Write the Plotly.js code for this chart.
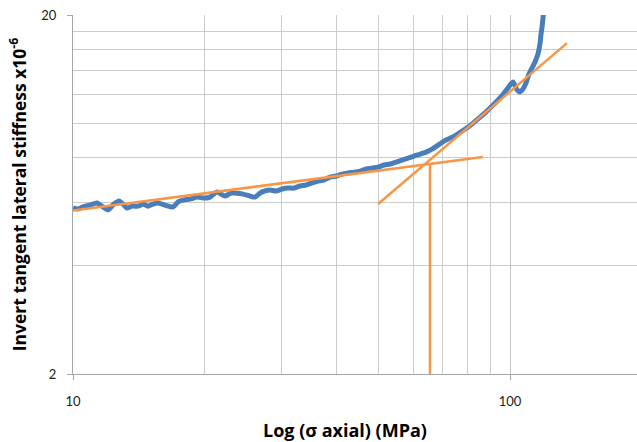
<!DOCTYPE html>
<html>
<head>
<meta charset="utf-8">
<script src="https://cdn.plot.ly/plotly-3.0.1.min.js"></script>
<style>html,body{margin:0;padding:0;background:#fff;}#chart{width:637px;height:442px;}</style>
</head>
<body>
<div id="chart"></div>
<script>
// Measured curve (σ axial in MPa, invert tangent lateral stiffness ×10^-6)
const sigmaAxial = [10.00,10.27,10.54,10.94,11.35,11.71,12.03,12.41,12.74,13.08,13.29,13.65,14.09,14.46,14.85,15.24,15.65,16.24,16.94,17.39,17.85,18.52,19.22,19.94,20.58,21.35,21.81,22.27,22.99,23.73,24.49,25.41,26.09,26.78,27.50,28.23,29.14,30.08,31.04,32.04,33.07,34.13,35.23,36.36,37.53,38.74,39.98,41.27,42.59,43.96,45.38,46.83,48.34,49.89,51.50,53.15,54.86,56.62,58.44,60.32,62.26,64.26,66.33,68.46,70.66,72.93,75.28,77.70,80.19,82.77,85.43,88.18,91.01,93.94,96.96,98.95,100.5,101.6,102.7,103.8,105.4,107.1,108.8,110.5,112.3,114.1,115.9,117.1,117.7,118.4,119.0,119.6];
const invStiffness = [5.80,5.76,5.84,5.91,5.99,5.84,5.73,5.95,6.07,5.91,5.80,5.87,5.87,5.95,5.87,5.95,5.99,5.91,5.84,6.03,6.10,6.14,6.22,6.18,6.22,6.43,6.34,6.26,6.38,6.38,6.34,6.26,6.22,6.38,6.47,6.51,6.47,6.55,6.59,6.59,6.68,6.72,6.81,6.89,6.94,7.07,7.12,7.21,7.26,7.30,7.35,7.45,7.49,7.54,7.64,7.69,7.79,7.89,7.99,8.09,8.20,8.30,8.46,8.68,8.91,9.08,9.26,9.50,9.75,10.06,10.39,10.74,11.16,11.60,12.13,12.53,12.85,13.02,12.69,12.37,12.21,12.45,12.93,13.70,14.24,14.80,15.58,16.61,17.60,18.52,19.62,20.92];

// Construction lines
const lowTrendX = [9.05, 86.7];
const lowTrendY = [5.62, 8.04];
const highTrendX = [49.9, 135];
const highTrendY = [5.95, 16.7];
const markerX = [65.6, 65.6];
const markerY = [7.74, 2.0];

// Axis ticks
const xMajor = [10, 100];
const xMajorText = ['10', '100'];
const xMinor = [20, 30, 40, 50, 60, 70, 80, 90];
const yMajor = [2, 20];
const yMajorText = ['2', '20'];
const yMinor = [4, 6, 8, 10, 12, 14, 16, 18];

const blue = '#4a7ebb';
const orange = '#f79646';

const traces = [
  {x: sigmaAxial, y: invStiffness, type: 'scatter', mode: 'lines',
   line: {color: blue, width: 5, shape: 'spline', smoothing: 0.6}, hoverinfo: 'skip'},
  {x: lowTrendX, y: lowTrendY, type: 'scatter', mode: 'lines', line: {color: orange, width: 2.5}},
  {x: highTrendX, y: highTrendY, type: 'scatter', mode: 'lines', line: {color: orange, width: 2.5}},
  {x: markerX, y: markerY, type: 'scatter', mode: 'lines', line: {color: orange, width: 2.5}}
];

const fontFam = 'Lato, "Open Sans", sans-serif';
const titleFam = '"Open Sans", Lato, sans-serif';
const layout = {
  width: 637, height: 442,
  margin: {l: 73, r: 0, t: 15, b: 68},
  paper_bgcolor: '#fff', plot_bgcolor: '#fff',
  showlegend: false,
  font: {family: fontFam, size: 13, color: '#222'},
  xaxis: {
    type: 'log', range: [1, 1 + 564/437],
    tickvals: xMajor, ticktext: xMajorText,
    ticks: 'outside', ticklen: 5, tickcolor: '#a6a6a6',
    ticklabelstandoff: 10,
    showgrid: true, gridcolor: '#c4c4c4', gridwidth: 1,
    showline: true, linecolor: '#a6a6a6', linewidth: 1,
    minor: {tickvals: xMinor, showgrid: true, gridcolor: '#cccccc', gridwidth: 1, ticks: ''},
    zeroline: false, fixedrange: true
  },
  yaxis: {
    type: 'log', range: [Math.log10(2), Math.log10(20)],
    tickvals: yMajor, ticktext: yMajorText,
    ticks: 'outside', ticklen: 5, tickcolor: '#a6a6a6',
    ticklabelstandoff: 8,
    showgrid: true, gridcolor: '#c4c4c4', gridwidth: 1,
    showline: true, linecolor: '#a6a6a6', linewidth: 1,
    minor: {tickvals: yMinor, showgrid: true, gridcolor: '#cccccc', gridwidth: 1, ticks: ''},
    zeroline: false, fixedrange: true,
    title: {text: 'Invert tangent lateral stiffness x10<sup>-6</sup>',
            font: {family: titleFam, size: 17.5, color: '#000', weight: 'bold'}, standoff: 10}
  },
  annotations: [
    {text: 'Log (σ axial) (MPa)', xref: 'paper', yref: 'paper',
     x: (345 - 73) / 564, y: (374 - 430) / 359, xanchor: 'center', yanchor: 'middle',
     showarrow: false, font: {family: titleFam, size: 18, color: '#000', weight: 'bold'}}
  ]
};

Plotly.newPlot('chart', traces, layout, {displayModeBar: false, staticPlot: true});
</script>
</body>
</html>
